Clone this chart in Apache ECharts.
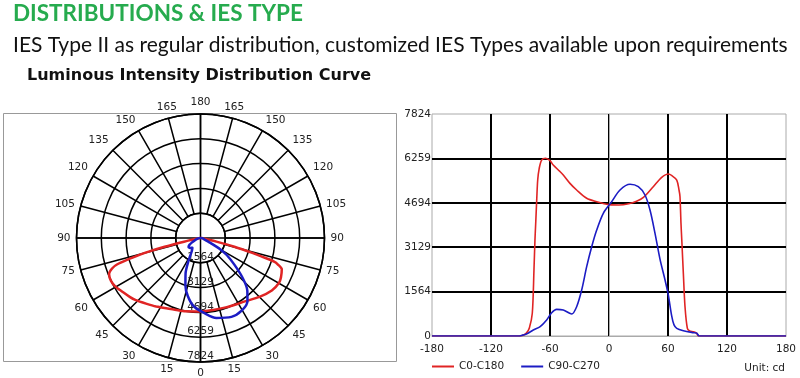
<!DOCTYPE html>
<html><head><meta charset="utf-8">
<script src="https://cdn.jsdelivr.net/npm/echarts@6/dist/echarts.min.js"></script>
<style>html,body{margin:0;padding:0;background:#fff}#c{width:800px;height:378px}</style>
</head><body><div id="c"></div>
<script>
// ---- data (angle in degrees, intensity in cd) ----
const redAngles = [-180, -95, -88, -84, -81, -78, -76.3, -75.3, -74.5, -73.5, -72.5, -71, -68.5, -64.4, -60, -56.7, -50, -46.5, -39.7, -32.9, -22.7, -12.5, 0, 10, 20, 28, 35, 45, 53.6, 60.3, 64, 68.9, 71.2, 72.2, 73.2, 74, 75.6, 77.3, 79.7, 82, 86, 89, 91, 180];
const redValues = [0, 0, 20, 100, 280, 800, 2330, 3380, 4000, 4800, 5500, 5900, 6200, 6262, 6180, 6026, 5800, 5673, 5380, 5145, 4853, 4733, 4630, 4616, 4660, 4750, 4885, 5261, 5591, 5708, 5650, 5497, 5145, 4909, 3971, 3400, 2209, 1032, 270, 180, 150, 100, 0, 0];
const blueAngles = [-180, -92, -88, -84, -77, -70, -63.4, -58.3, -53.2, -46.5, -40, -37.9, -32.9, -27.8, -22.7, -17.6, -12.5, -5.8, 2.7, 11.2, 21.4, 29.8, 36.6, 41.7, 46.8, 51.9, 57, 60.3, 63.8, 66, 68.9, 75.6, 85.8, 89.2, 91.9, 180];
const blueValues = [0, 0, 30, 70, 210, 330, 564, 822, 940, 916, 800, 775, 1033, 1621, 2443, 3147, 3735, 4324, 4733, 5145, 5346, 5261, 4969, 4440, 3619, 2700, 1973, 1450, 700, 400, 271, 187, 116, 100, 0, 0];
const seriesNames = ['C0-C180', 'C90-C270'];
const xTickLabels = ['-180', '-120', '-60', '0', '60', '120', '180'];
const yTickLabels = ['0', '1564', '3129', '4694', '6259', '7824'];
const maxIntensity = 7824;
const intensityStep = maxIntensity / 5;
const titleText = 'DISTRIBUTIONS & IES TYPE';
const subtitleText = 'IES Type II as regular distribution, customized IES Types available upon requirements';
const panelTitleText = 'Luminous Intensity Distribution Curve';
const unitText = 'Unit: cd';

const RED = '#e02424', BLUE = '#1c1cc4';
const FONT = 'DejaVu Sans';
const cartPairs = (a, v) => a.map((x, i) => [x, v[i]]);
const polarPairs = (a, v) => a.map((x, i) => [v[i], x < 0 ? x + 360 : x]);
const yLabel = v => yTickLabels[Math.round(v / intensityStep)];

const chart = echarts.init(document.getElementById('c'), null, {renderer: 'canvas'});
chart.setOption({
  animation: false,
  backgroundColor: '#fff',
  title: [
    {text: titleText, left: 13, top: 2, padding: 0,
     textStyle: {fontFamily: 'Lato', fontWeight: 'bold', fontSize: 22.5, color: '#26ab4e'}},
    {text: subtitleText, left: 13, top: 35, padding: 0,
     textStyle: {fontFamily: 'Lato', fontWeight: 'normal', fontSize: 21, color: '#111'}},
    {text: panelTitleText, left: 27, top: 68, padding: 0,
     textStyle: {fontFamily: FONT, fontWeight: 'bold', fontSize: 16, color: '#111'}},
    {text: unitText, right: 15, top: 363, padding: 0,
     textStyle: {fontFamily: FONT, fontWeight: 'normal', fontSize: 10.5, color: '#222'}}
  ],
  graphic: [
    {type: 'rect', z: -1, shape: {x: 3.5, y: 113.5, width: 393, height: 248},
     style: {fill: 'none', stroke: '#999', lineWidth: 1}}
  ],
  legend: {
    data: seriesNames, left: 432, top: 361, padding: 0, itemWidth: 22, itemHeight: 10, itemGap: 17,
    icon: 'path://M0,4 L22,4 L22,6 L0,6 Z',
    textStyle: {fontFamily: FONT, fontSize: 10.5, color: '#222'}
  },
  polar: [
    {center: [200.5, 238], radius: [0, 124]},
    {center: [200.5, 238], radius: [24.8, 124]}
  ],
  angleAxis: [
    {polarIndex: 0, min: 0, max: 360, interval: 90, startAngle: -90, clockwise: false,
     axisLine: {show: false}, axisTick: {show: false}, axisLabel: {show: false},
     splitLine: {show: true, lineStyle: {color: '#000', width: 1.5}}},
    {polarIndex: 1, min: 0, max: 360, interval: 15, startAngle: -90, clockwise: false,
     axisLine: {show: true, lineStyle: {color: '#000', width: 1.5}}, axisTick: {show: false},
     axisLabel: {show: true, margin: 6, fontFamily: FONT, fontSize: 10.5, color: '#222',
       formatter: v => String(v <= 180 ? v : 360 - v)},
     splitLine: {show: true, lineStyle: {color: '#000', width: 1.5}}}
  ],
  radiusAxis: [
    {polarIndex: 0, min: 0, max: maxIntensity, interval: intensityStep,
     axisLine: {show: false}, axisTick: {show: false},
     axisLabel: {show: true, showMinLabel: false, margin: 0, align: 'center', verticalAlign: 'bottom',
       fontFamily: FONT, fontSize: 10.5, color: '#222', formatter: yLabel},
     splitLine: {show: true, lineStyle: {color: '#000', width: 1.5}}},
    {polarIndex: 1, min: intensityStep, max: maxIntensity, show: false}
  ],
  grid: {left: 432, right: 14, top: 114, bottom: 42, show: true, borderColor: '#aaa', borderWidth: 1},
  xAxis: {type: 'value', min: -180, max: 180, interval: 60,
    axisLine: {show: true, lineStyle: {color: '#aaa'}}, axisTick: {show: false},
    axisLabel: {margin: 8, fontFamily: FONT, fontSize: 10.5, color: '#222',
      formatter: v => xTickLabels[Math.round((v + 180) / 60)]},
    splitLine: {show: true, showMinLine: false, showMaxLine: false, lineStyle: {color: '#000', width: 2}}},
  yAxis: {type: 'value', min: 0, max: maxIntensity, interval: intensityStep,
    axisLine: {show: true, lineStyle: {color: '#aaa'}}, axisTick: {show: false},
    axisLabel: {margin: 1, fontFamily: FONT, fontSize: 10.5, color: '#222', formatter: yLabel},
    splitLine: {show: true, showMinLine: false, showMaxLine: false, lineStyle: {color: '#000', width: 2}}},
  series: [
    {name: seriesNames[0], type: 'line', coordinateSystem: 'polar', polarIndex: 0, symbol: 'none', smooth: 0.3,
     lineStyle: {color: RED, width: 2.5}, itemStyle: {color: RED}, data: polarPairs(redAngles, redValues), z: 5},
    {name: seriesNames[1], type: 'line', coordinateSystem: 'polar', polarIndex: 0, symbol: 'none', smooth: 0.3,
     lineStyle: {color: BLUE, width: 2.5}, itemStyle: {color: BLUE}, data: polarPairs(blueAngles, blueValues), z: 5},
    {name: seriesNames[0], type: 'line', symbol: 'none', smooth: 0.3,
     lineStyle: {color: RED, width: 1.6}, itemStyle: {color: RED}, data: cartPairs(redAngles, redValues), z: 5},
    {name: seriesNames[1], type: 'line', symbol: 'none', smooth: 0.3,
     lineStyle: {color: BLUE, width: 1.6}, itemStyle: {color: BLUE}, data: cartPairs(blueAngles, blueValues), z: 5}
  ]
});
</script>
</body></html>
